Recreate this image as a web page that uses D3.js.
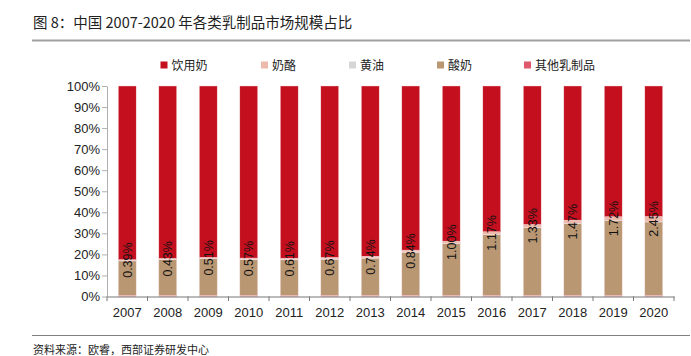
<!DOCTYPE html>
<html><head><meta charset="utf-8">
<script src="https://cdn.jsdelivr.net/npm/d3@7"></script>
<style>body{margin:0;background:#fff}svg{display:block}</style>
</head><body>
<svg id="c" width="691" height="356"></svg>
<script>
const years = ["2007","2008","2009","2010","2011","2012","2013","2014","2015","2016","2017","2018","2019","2020"];
const others = [0.6,0.6,0.6,0.6,0.6,0.6,0.6,0.6,0.6,0.6,0.6,0.6,0.6,0.6];
const yogurt = [16.3,16.9,17.3,16.9,16.8,17.1,17.6,20.4,24.5,28.8,32.1,34.0,35.4,34.8];
const butter = [0.2,0.2,0.2,0.2,0.2,0.2,0.2,0.2,0.2,0.2,0.2,0.2,0.2,0.2];
const cheese = [0.39,0.43,0.51,0.57,0.61,0.67,0.74,0.84,1.00,1.17,1.33,1.47,1.72,2.45];
const cheeseLabels = ["0.39%","0.43%","0.51%","0.57%","0.61%","0.67%","0.74%","0.84%","1.00%","1.17%","1.33%","1.47%","1.72%","2.45%"];
const milk = years.map((y,i)=>+(100-others[i]-yogurt[i]-butter[i]-cheese[i]).toFixed(2));
const yTicks = [0,10,20,30,40,50,60,70,80,90,100];
const legendNames = ["饮用奶","奶酪","黄油","酸奶","其他乳制品"];

const series = [
  {key:"其他乳制品", vals:others, color:"#e0586b"},
  {key:"酸奶", vals:yogurt, color:"#b99773"},
  {key:"黄油", vals:butter, color:"#d6d6d6"},
  {key:"奶酪", vals:cheese, color:"#ecb9aa"},
  {key:"饮用奶", vals:milk, color:"#c40f1f"}
];
const colorOf = Object.fromEntries(series.map(s=>[s.key,s.color]));

const svg = d3.select("#c");
const cjk = "'Noto Sans CJK SC','Noto Sans',sans-serif";
const latin = "'Liberation Sans',Arial,sans-serif";

// title
svg.append("text").attr("x",33).attr("y",28).attr("font-family",cjk).attr("font-size",14.5)
  .attr("fill","#222").text("图 8：中国 2007-2020 年各类乳制品市场规模占比");
svg.append("line").attr("x1",32).attr("x2",690).attr("y1",40.5).attr("y2",40.5).attr("stroke","#a0a0a0").attr("stroke-width",2);

const x = d3.scaleBand().domain(years).range([107,674]).paddingInner(0.56).paddingOuter(0.28);
const y = d3.scaleLinear().domain([0,100]).range([296.5,86]);

// stack
const table = years.map((yr,i)=>{const o={year:yr}; series.forEach(s=>o[s.key]=s.vals[i]); return o;});
const stack = d3.stack().keys(series.map(s=>s.key))(table);

svg.append("g").selectAll("g").data(stack).join("g").attr("fill",d=>colorOf[d.key])
  .selectAll("rect").data(d=>d).join("rect")
  .attr("x",d=>x(d.data.year)).attr("width",x.bandwidth())
  .attr("y",d=>y(d[1])).attr("height",d=>y(d[0])-y(d[1]))
  .attr("stroke","#f6dcdc").attr("stroke-width",0.4);

// y axis
const ya = svg.append("g").attr("transform","translate(107,0)")
  .call(d3.axisLeft(y).tickValues(yTicks).tickFormat(d=>d+"%").tickSize(5).tickSizeOuter(0));
ya.select(".domain").attr("stroke","#b0b0b0");
ya.selectAll(".tick line").attr("stroke","#b0b0b0");
ya.selectAll("text").attr("font-family",latin).attr("font-size",13).attr("fill","#222").attr("x",-7);

// x axis
const xa = svg.append("g").attr("transform","translate(0,296.5)")
  .call(d3.axisBottom(x).tickSize(0).tickSizeOuter(0));
xa.select(".domain").attr("stroke","#777");
xa.selectAll("text").attr("font-family",latin).attr("font-size",13).attr("fill","#222").attr("dy","0").attr("y",20);
const step = x.step();
svg.append("g").selectAll("line").data(years.concat(["end"])).join("line")
  .attr("x1",(d,i)=>107+i*step).attr("x2",(d,i)=>107+i*step)
  .attr("y1",296.5).attr("y2",301).attr("stroke","#777");

// value labels
svg.append("g").selectAll("text").data(table).join("text")
  .attr("transform",(d,i)=>{
    const base = others[i]+yogurt[i]+butter[i];
    const cy = y(base + cheese[i]/2);
    return `translate(${x(d.year)+x.bandwidth()/2+4.5},${cy}) rotate(-90)`;})
  .attr("text-anchor","middle").attr("font-family",latin).attr("font-size",12.5).attr("fill","#111")
  .text((d,i)=>cheeseLabels[i]);

// legend
const lx = [160.5,261,349,437,524];
const lg = svg.append("g").selectAll("g").data(legendNames).join("g")
  .attr("transform",(d,i)=>`translate(${lx[i]},65)`);
lg.append("rect").attr("x",0).attr("y",-3.5).attr("width",7).attr("height",7).attr("fill",d=>colorOf[d]);
lg.append("text").attr("x",11).attr("y",4.5).attr("font-family",cjk).attr("font-size",12).attr("fill","#222").text(d=>d);

// source
svg.append("line").attr("x1",32).attr("x2",690).attr("y1",335.5).attr("y2",335.5).attr("stroke","#808080").attr("stroke-width",1);
svg.append("text").attr("x",33).attr("y",354).attr("font-family",cjk).attr("font-size",11).attr("fill","#222")
  .text("资料来源：欧睿，西部证券研发中心");
</script>
</body></html>
